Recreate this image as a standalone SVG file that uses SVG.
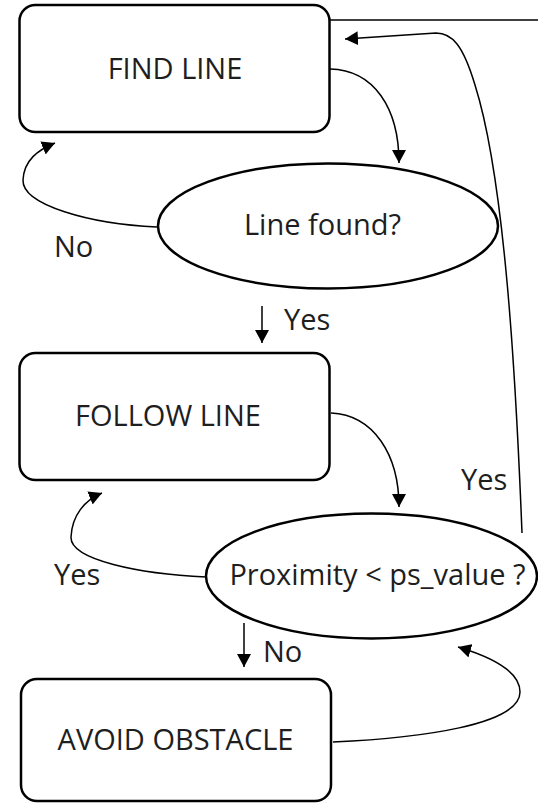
<svg xmlns="http://www.w3.org/2000/svg" width="538" height="803" viewBox="0 0 538 803">
<style>
.box{fill:#fff;stroke:#000;stroke-width:2.5}
.conn{fill:none;stroke:#000;stroke-width:1.5}
text{font-family:"Open Sans","Liberation Sans",sans-serif;font-size:29px;fill:#1e1e1e}
.c{text-anchor:middle}
</style>
<defs>
<marker id="ah" viewBox="0 0 13 14" refX="13" refY="7" markerWidth="13" markerHeight="14" markerUnits="userSpaceOnUse" orient="auto">
<path d="M0,0 L13,7 L0,14 z" fill="#000"/>
</marker>
</defs>
<rect width="538" height="803" fill="#fff"/>
<g id="connectors">
<path class="conn" d="M330,20 L538,20"/>
<path class="conn" d="M330,69 C374,70 399,108 399,163" marker-end="url(#ah)"/>
<path class="conn" d="M157,227 C90,224 22,205 23,180 C24,160 38,150 55,143" marker-end="url(#ah)"/>
<path class="conn" d="M262,306 L262,343" marker-end="url(#ah)"/>
<path class="conn" d="M331,413 C374,415 399,455 399,507" marker-end="url(#ah)"/>
<path class="conn" d="M206,577 C140,574 70,560 71,537 C72,515 85,500 102,493" marker-end="url(#ah)"/>
<path class="conn" d="M522,533 C516,380 505,180 475,85 C463,45 452,33 436,33 L345,39" marker-end="url(#ah)"/>
<path class="conn" d="M244,623 L244,667" marker-end="url(#ah)"/>
<path class="conn" d="M333,742 C420,738 520,725 520,692 C520,670 488,656 458,647" marker-end="url(#ah)"/>
</g>
<g id="find-line">
<rect class="box" x="19.5" y="5" width="310" height="127" rx="16"/>
<text class="c" x="175" y="79">FIND LINE</text>
</g>
<g id="line-found">
<ellipse class="box" cx="328" cy="226" rx="170" ry="62.5"/>
<text class="c" x="322.5" y="235">Line found?</text>
</g>
<g id="follow-line">
<rect class="box" x="19.5" y="353" width="310" height="127" rx="16"/>
<text class="c" x="168" y="426">FOLLOW LINE</text>
</g>
<g id="proximity">
<ellipse class="box" cx="371.5" cy="576" rx="165.5" ry="62.5"/>
<text class="c" x="377.5" y="585">Proximity &lt; ps_value ?</text>
</g>
<g id="avoid-obstacle">
<rect class="box" x="21" y="679" width="310" height="122" rx="16"/>
<text class="c" x="175.5" y="750">AVOID OBSTACLE</text>
</g>
<g id="labels">
<text x="54" y="257">No</text>
<text x="284" y="330">Yes</text>
<text x="461" y="490">Yes</text>
<text x="54" y="585">Yes</text>
<text x="263" y="662">No</text>
</g>
</svg>
